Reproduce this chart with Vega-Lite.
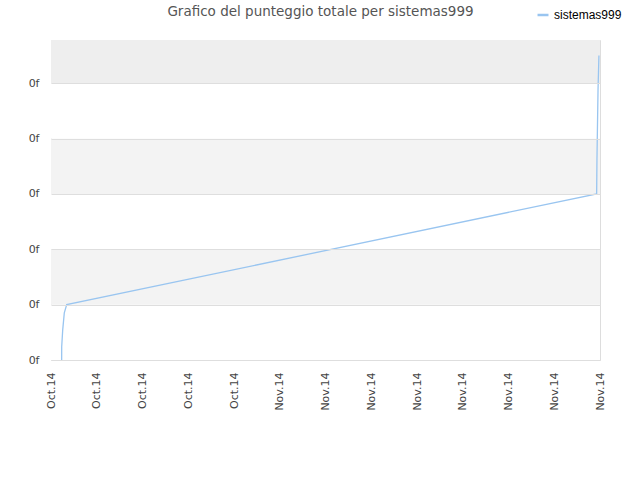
{
  "$schema": "https://vega.github.io/schema/vega-lite/v6.json",
  "description": "Grafico del punteggio totale per sistemas999",
  "autosize": {"type": "none"},
  "width": 549,
  "height": 320,
  "padding": {"left": 51, "top": 40, "right": 40, "bottom": 120},
  "background": "white",
  "config": {
    "view": {"stroke": "#dddddd", "strokeWidth": 1},
    "font": "DejaVu Sans"
  },
  "title": {
    "text": "Grafico del punteggio totale per sistemas999",
    "fontSize": 13.5,
    "fontWeight": "normal",
    "color": "#555555",
    "anchor": "middle",
    "dx": -5,
    "offset": -10
  },
  "datasets": {
    "bands": [
      {"lo": 0, "hi": 1, "shade": "white"},
      {"lo": 1, "hi": 2, "shade": "light"},
      {"lo": 2, "hi": 3, "shade": "white"},
      {"lo": 3, "hi": 4, "shade": "light"},
      {"lo": 4, "hi": 5, "shade": "white"},
      {"lo": 5, "hi": 5.78, "shade": "top"}
    ],
    "scores": [
      {"time": "2014-10-19T16:48:00Z", "score": 0, "player": "sistemas999"},
      {"time": "2014-10-19T16:50:00Z", "score": 0.24, "player": "sistemas999"},
      {"time": "2014-10-19T18:24:00Z", "score": 0.54, "player": "sistemas999"},
      {"time": "2014-10-19T20:56:00Z", "score": 0.85, "player": "sistemas999"},
      {"time": "2014-10-20T00:43:00Z", "score": 1.0, "player": "sistemas999"},
      {"time": "2014-11-23T18:43:00Z", "score": 3.0, "player": "sistemas999"},
      {"time": "2014-11-23T19:12:00Z", "score": 3.61, "player": "sistemas999"},
      {"time": "2014-11-23T20:53:00Z", "score": 4.87, "player": "sistemas999"},
      {"time": "2014-11-23T22:19:00Z", "score": 5.5, "player": "sistemas999"}
    ]
  },
  "layer": [
    {
      "data": {"name": "bands"},
      "mark": {"type": "rect"},
      "encoding": {
        "y": {
          "field": "lo",
          "type": "quantitative",
          "scale": {"domain": [0, 5.78], "nice": false, "zero": false},
          "axis": {
            "title": null,
            "values": [0, 1, 2, 3, 4, 5],
            "labelExpr": "'0f'",
            "labelFontSize": 11,
            "labelColor": "#444444",
            "labelPadding": 12,
            "domain": false,
            "ticks": false,
            "grid": true,
            "gridColor": "#dedede",
            "gridWidth": 1,
            "zindex": 1
          }
        },
        "y2": {"field": "hi"},
        "color": {
          "field": "shade",
          "type": "nominal",
          "scale": {"domain": ["white", "light", "top"], "range": ["#ffffff", "#f3f3f3", "#eeeeee"]},
          "legend": null
        }
      }
    },
    {
      "data": {"name": "scores"},
      "mark": {"type": "line", "strokeWidth": 1.3, "interpolate": "linear"},
      "encoding": {
        "x": {
          "field": "time",
          "type": "temporal",
          "scale": {"type": "utc", "domain": [{"year": 2014, "month": 10, "date": 19, "utc": true}, {"year": 2014, "month": 11, "date": 24, "utc": true}], "nice": false},
          "axis": {
            "title": null,
            "labelExpr": "utcFormat(datum.value, '%b.%y')",
            "values": [
              {"year": 2014, "month": 10, "date": 19, "utc": true},
              {"year": 2014, "month": 10, "date": 22, "utc": true},
              {"year": 2014, "month": 10, "date": 25, "utc": true},
              {"year": 2014, "month": 10, "date": 28, "utc": true},
              {"year": 2014, "month": 10, "date": 31, "utc": true},
              {"year": 2014, "month": 11, "date": 3, "utc": true},
              {"year": 2014, "month": 11, "date": 6, "utc": true},
              {"year": 2014, "month": 11, "date": 9, "utc": true},
              {"year": 2014, "month": 11, "date": 12, "utc": true},
              {"year": 2014, "month": 11, "date": 15, "utc": true},
              {"year": 2014, "month": 11, "date": 18, "utc": true},
              {"year": 2014, "month": 11, "date": 21, "utc": true},
              {"year": 2014, "month": 11, "date": 24, "utc": true}
            ],
            "labelAngle": -90,
            "labelFontSize": 11,
            "labelColor": "#444444",
            "labelPadding": 12,
            "labelOverlap": false,
            "labelFlush": false,
            "domain": false,
            "ticks": false,
            "grid": false
          }
        },
        "y": {"field": "score", "type": "quantitative"},
        "color": {
          "field": "player",
          "type": "nominal",
          "scale": {"range": ["#99c5f0"]},
          "legend": {
            "title": null,
            "orient": "none",
            "legendX": 485,
            "legendY": -32,
            "symbolType": "stroke",
            "symbolSize": 120,
            "symbolStrokeWidth": 2.5,
            "labelFont": "Liberation Sans",
            "labelFontSize": 12,
            "labelColor": "#000000"
          }
        }
      }
    }
  ],
  "resolve": {"scale": {"color": "independent"}}
}
